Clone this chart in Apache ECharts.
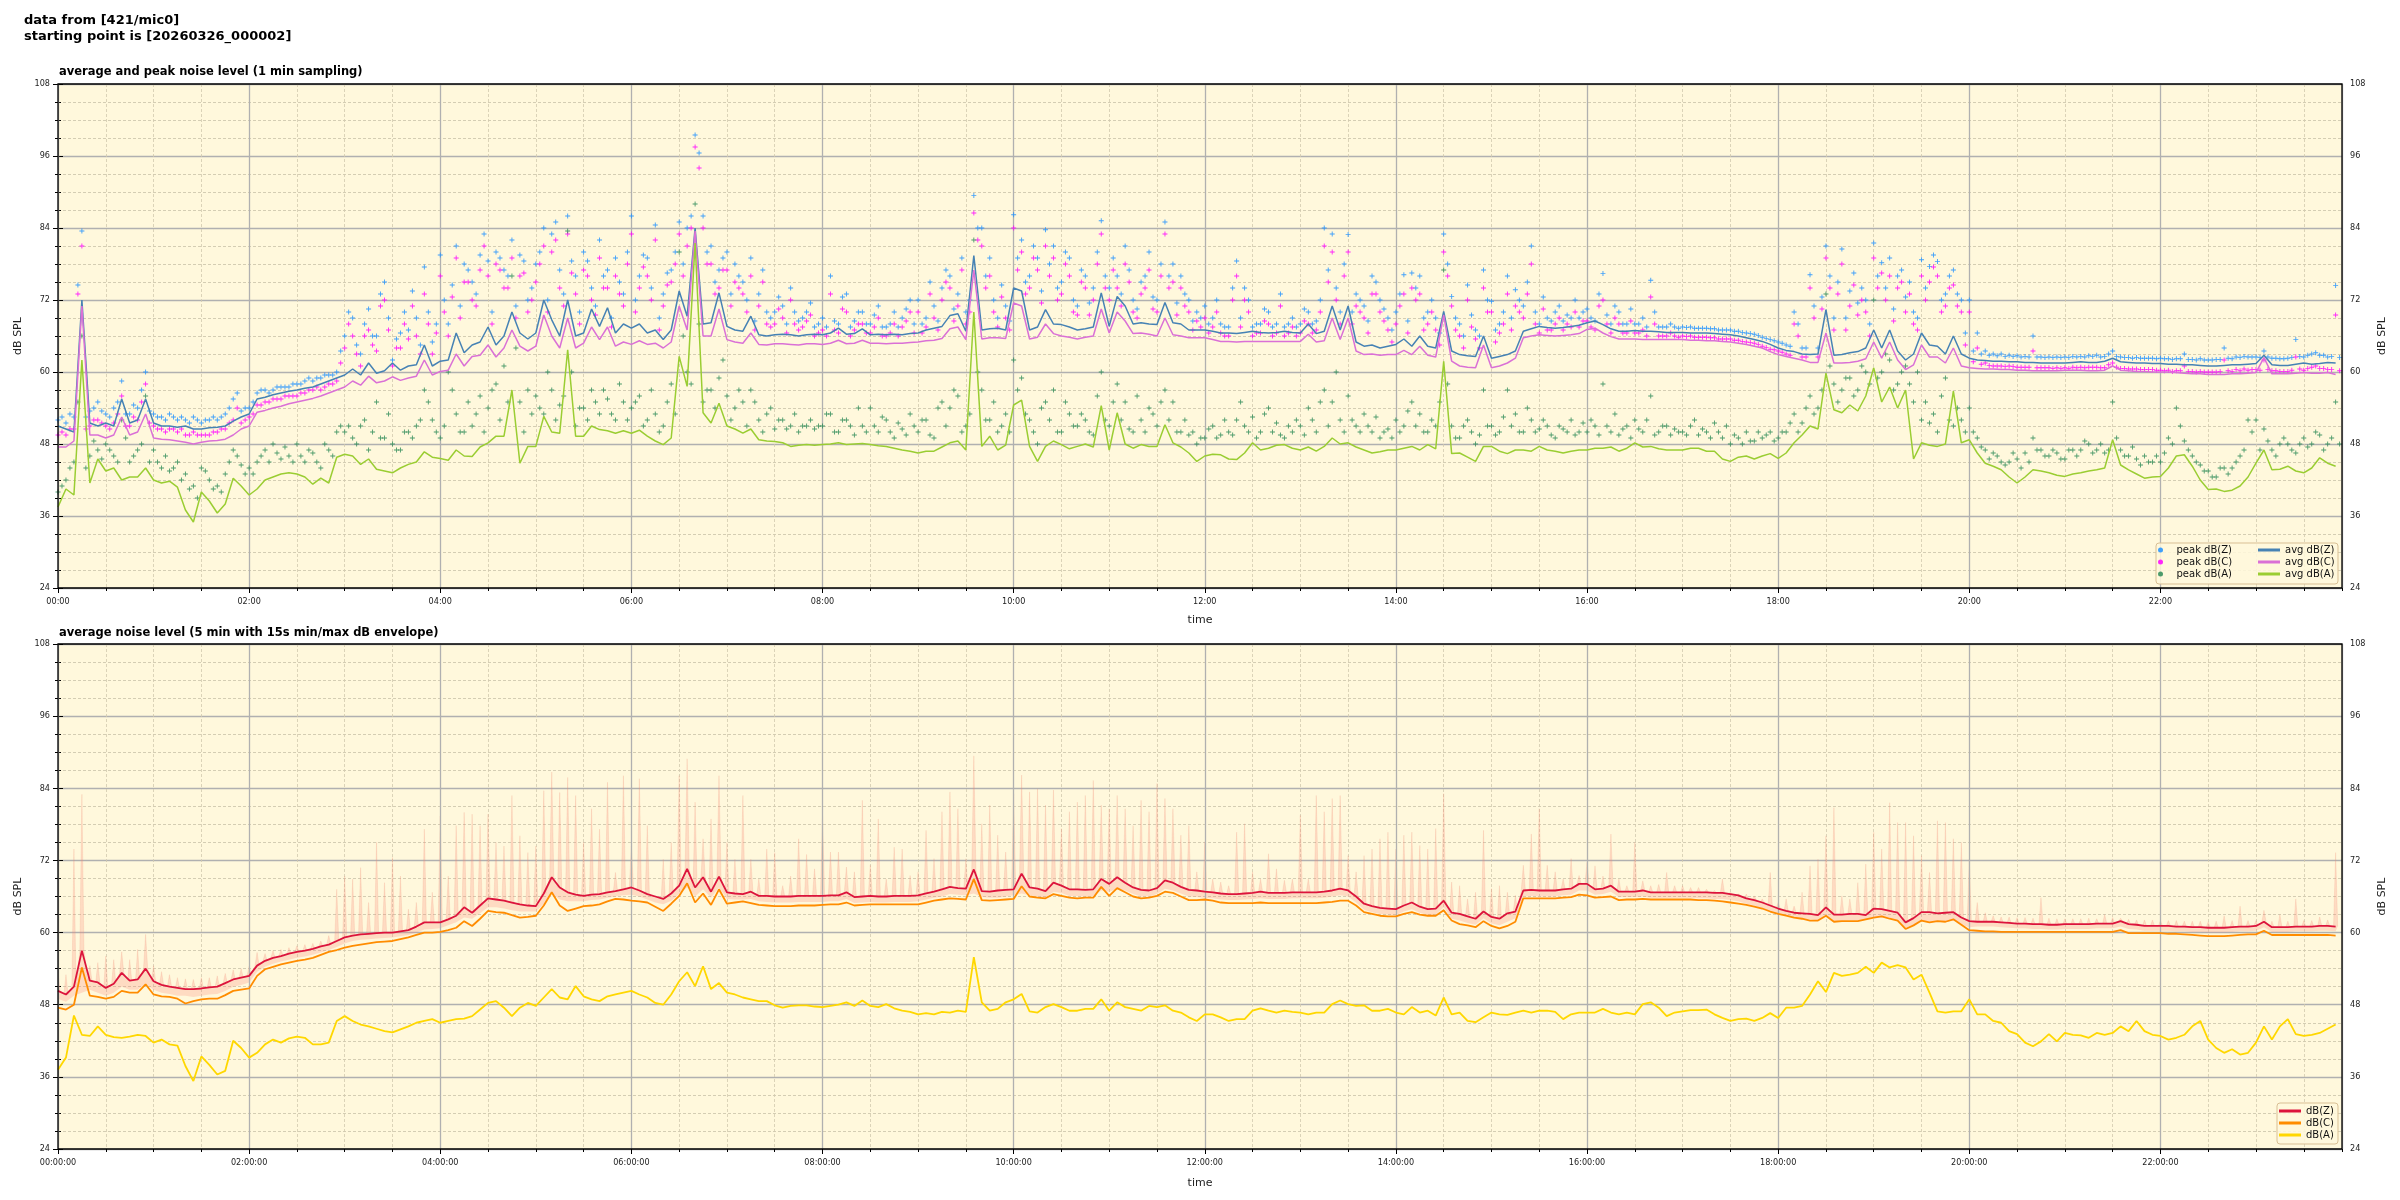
<!DOCTYPE html>
<html><head><meta charset="utf-8">
<script src="https://cdn.jsdelivr.net/npm/echarts@6/dist/echarts.min.js"></script>
<style>html,body{margin:0;padding:0;background:#fff}#c{width:2400px;height:1200px}</style>
</head><body><div id="c"></div><script>
// ---------------- DATA (one value every 5 min, 00:00 .. 23:50) ----------------
const STEP_MIN = 5;
const X_MAX = 1434;            // last sample ~23:54
const yTicks = [24, 36, 48, 60, 72, 84, 96, 108];

// top panel: 1 min averages (sampled every 5 min)
const avgZ = [
51,50.5,50,72,51.5,51,51.5,51,55.5,51.5,52,55.5,
51.5,51,51,50.8,51,50.5,50.5,50.7,50.8,51,51.8,52.5,
53,55.5,55.8,56.2,56.5,56.8,57,57.3,57.5,58,58.5,59,
59.5,60.5,59.5,61.5,59.8,60.2,61.5,60.3,61,61.2,64.5,61,
61.8,62,66.5,63.2,64.5,65,67.5,64.5,66,70,66.5,65.5,
66.5,72,68.7,66,72,66,66.5,70.5,67.6,70.7,66.5,68,
67.3,68,66.5,67,65.4,67,73.5,69.3,84,68,68.2,73.2,
67.6,67,66.8,69.3,66.2,66,66.2,66.3,66.2,66,66.2,66.3,
66.2,66.5,67.3,66.3,66.4,67.2,66.2,66.3,66.2,66.3,66.2,66.4,
66.5,67,67.3,67.6,69.4,69.7,66.8,79.4,67,67.2,67.3,67,
74,73.5,67,67.5,70.4,68,67.9,67.5,67,67.2,67.5,73.2,
67.6,72.6,71,68,68.2,68,67.9,71.6,68.2,68,67,67,
67,66.8,66.5,66.5,66.4,66.6,66.8,66.6,66.5,66.6,66.8,66.6,
66.5,68,66.4,66.8,71,67,71,65,64.3,64.5,64,64.3,
64.6,65.5,64.3,66,64.3,64,70.1,63.5,62.9,62.7,62.6,66,
62.3,62.6,62.9,63.5,66.8,67.2,67.6,67.4,67.3,67.4,67.6,67.8,
68.2,68.5,67.9,67.2,66.8,66.8,66.9,66.8,66.8,66.7,66.6,66.6,
66.6,66.5,66.5,66.5,66.4,66.3,66.2,66,65.7,65.4,65.1,64.6,
64,63.6,63.4,63,62.9,63,70.4,62.8,62.9,63.2,63.4,64,
67,64,67,63.5,62,63,66.5,64.5,64.3,63,66,63,
62.3,62,61.9,61.8,61.8,61.7,61.7,61.6,61.6,61.5,61.5,61.5,
61.5,61.6,61.7,61.6,61.6,61.8,62.3,61.7,61.6,61.5,61.5,61.4,
61.4,61.3,61.3,61.2,61.2,61.1,61,61,61.1,61.2,61.2,61.3,
61.4,62.8,61.2,61.1,61.1,61.3,61.5,61.3,61.4,61.6,61.5];
const avgC = [
47.5,47.5,48.5,71,49.5,49.5,49,49.5,52.5,49.5,50,53,
49,48.8,48.7,48.5,48.3,48,48.3,48.5,48.6,48.8,49.5,50.5,
51,53.3,53.6,54,54.3,54.7,55,55.3,55.6,56,56.5,57,
57.5,58.5,57.8,59.3,58.2,58.5,59.2,58.6,59,59.3,62,59.5,
60.1,60.3,63,61,62.6,62.8,64.5,62.5,64,67,64.3,63.5,
64.3,69.5,66,64,69,64,64.8,67.5,65.4,67.5,64.3,65,
64.6,65.2,64.6,64.8,64,65,71,67,83.5,66,66,70.5,
65.4,65,64.8,66.5,64.6,64.5,64.7,64.7,64.6,64.5,64.7,64.7,
64.6,64.8,65.3,64.7,64.8,65.3,64.8,64.8,64.7,64.8,64.8,64.9,
65,65.2,65.3,65.6,67.2,67.5,65.4,77,65.5,65.7,65.7,65.6,
71.5,71,65.5,65.8,68,66.4,66,65.8,65.5,65.8,66,70.5,
66.5,70,68.5,66.4,66.5,66.3,66,69,66.2,66,65.7,65.7,
65.7,65.4,65.1,65.1,65,65.1,65.1,65.1,65.1,65.1,65.1,65.1,
65.1,66.3,65,65.2,69,65.4,69,63.5,62.9,63,62.8,62.9,
62.9,63.6,62.9,64.3,62.8,62.5,69.5,61.8,61,60.8,60.7,64.5,
60.7,61,61.5,62.3,65.7,66,66.2,66.1,66,66.1,66.2,66.4,
67.1,67.3,66.5,65.9,65.5,65.5,65.5,65.4,65.4,65.4,65.4,65.4,
65.4,65.3,65.3,65.2,65.2,65.1,65,64.8,64.6,64.3,64,63.4,
62.9,62.6,62.3,62,61.6,61.6,66.5,61.5,61.5,61.6,61.8,62.2,
65,62.3,65,62,60.4,61.2,64.5,62.5,62.5,61.5,64,61,
60.7,60.6,60.5,60.5,60.4,60.4,60.3,60.3,60.2,60.2,60.2,60.2,
60.3,60.3,60.3,60.2,60.2,60.3,61,60.3,60.2,60.1,60.1,60,
60,60,59.9,59.8,59.7,59.7,59.6,59.6,59.6,59.7,59.7,59.8,
59.9,62.4,59.7,59.7,59.7,59.8,59.9,59.8,59.8,59.9,59.6];
const avgA = [
37.5,40.5,39.5,62,41.5,45.5,43.5,44,42,42.5,42.5,44,
42,41.5,41.8,40.8,37,35,40,38.5,36.5,38,42.3,41,
39.5,40.5,42,42.5,43,43.2,43,42.5,41.3,42.3,41.5,45.8,
46.3,46,44.6,45.5,43.8,43.5,43.2,44,44.6,45,46.7,45.8,
45.6,45.3,47,46,45.9,47.5,48.2,49.3,49.3,57,44.8,47.6,
47.6,52.6,50,49.8,63.7,49.3,49.3,51,50.4,50.2,49.8,50.2,
49.8,50.3,49.3,48.5,47.9,49,62.6,57.6,81.5,53.2,51.5,54.8,
51,50.5,49.8,50.5,48.7,48.5,48.4,48.2,47.6,47.8,47.9,47.8,
47.9,48,48.2,47.9,48,48.1,47.9,47.7,47.6,47.3,47,46.8,
46.5,46.8,46.8,47.5,48.2,48.5,47,70,47.6,49.3,47,47.8,
54.5,55.3,47.6,45.1,47.6,48.5,47.9,47.2,47.6,48,47.5,54.4,
47,53.2,48,47.3,47.9,47.6,47.6,51.2,48.2,47.5,46.5,45.1,
46,46.3,46.2,45.5,45.4,46.5,48.2,47,47.3,47.8,47.9,47.3,
47,47.5,46.8,47.6,49,48,48.2,47.5,47,46.5,46.7,47,
47,47.3,47.6,47,47.9,47.2,61.8,46.4,46.5,45.8,45.1,47.6,
47.6,46.8,46.4,47,47,46.8,47.6,47,46.8,46.5,46.8,47,
47,47.3,47.3,47.5,46.8,47.3,48.2,47.5,47.6,47.2,47,47,
47,47.3,47.3,46.8,46.8,45.5,45.1,45.8,46,45.5,46,46.4,
45.6,46.5,48.2,49.5,51,50.5,59.8,53.7,53.2,54.5,53.5,56,
60.7,55,57.5,54,57,45.5,48.2,47.8,47.6,48,56.8,48.2,
48.7,46.5,44.8,44.3,43.7,42.5,41.5,42.5,43.7,43.5,43.2,42.8,
42.6,43,43.2,43.5,43.7,44,48.7,44.5,43.7,43,42.3,42.5,
42.6,44,46,46.2,44.3,42,40.4,40.5,40.1,40.3,41,42.5,
44.8,47,43.7,43.8,44.3,43.5,43.2,44,45.7,44.8,44.3];

// top panel: 1 min peaks, read at hh:m0 / hh:m5 ...
const peakZ = [
52,51.5,52.5,83.5,53.5,55,53,54,58.5,53,54,60,
53,52.5,53,52,52,52.5,51.5,52,52,53,55.5,53.5,
54,56.5,57,57,57.5,57.5,58,58.5,58.5,59,59.5,60,
66,69,63,70.5,66,75,62,66.5,67,69,77.5,65,
79.5,68,81,78,75,79.5,78.5,80,77,82,79.5,72,
78,84,83,77,86,76,80,74,82,77,79,73,
86,76,79,84.5,73,77,85,84,99.5,86,81,77,
80,78,75,79,73,70,70,71,74,68.5,70,67.5,
69,76,68,73,68.5,70,68,71,67.5,70,69,72,
72,69,71,74,76,73,70,89.4,84,79,69,71,
86.2,82,76,79,83.7,81,75,79,71,76,74,85.2,
74,76,81,72,75,80,72,85,78,76,72,70,
71,69,68,67.5,78.5,74,67.5,68,70,68,67.5,69,
68,70,68.5,84,83,70,82.9,73,71,76,72,69,
70,76.2,76.5,76,70,69,83,72.6,68,74.5,67,77,
71.8,68,76,73.7,71,81,68,69,70,68.5,69,69,
70.5,68.5,76.4,68,70,68,68,69,75.3,67.5,67.5,67.5,
67.5,67.5,67.3,67.3,67.2,67,67,66.8,66.5,66.3,65.8,65.4,
65,64.5,70,64,76.2,64,81,69,80.5,73.5,71.5,72,
81.5,78.2,79,76,72.5,70,78.7,77.6,78.4,73,77,72,
72,66.5,63.5,63,63,62.8,62.7,62.6,66,62.5,62.5,62.5,
62.5,62.6,62.6,62.7,62.8,62.6,63.5,62.5,62.4,62.4,62.3,62.3,
62.3,62.2,62.2,63,62.1,62.2,62,62.1,64,62.2,62.4,62.5,
62.5,63.5,62.3,62.2,62.3,65.4,62.5,63,62.8,62.5,74.4];
const peakC = [
49.5,49.5,50.5,81,51,52,51,51.5,56,51,52,58,
51,50.5,50.5,50,49.5,50,49.5,49.5,50,50.5,52,51.5,
52.5,54.5,55,55.5,55.5,56,56,56.5,57,57,58,58.5,
64,66,61,67,63.5,72,61,64,65.5,66,73,63,
76,66,79,75,72,77,76,78,74,79,76,70,
75,81,80,74,83,73,77,72,79,74,76,71,
83,74,76,82,71,75,83,81,97.5,84,78,74,
77,75,73,76,71,68,68,69,72,67,68.5,66,
67,73,66.5,70,67,68,66.5,69,66,68,67.5,70,
70,67.5,69,72,74,71,68,86.5,81,76,67.5,69,
84,80,74,77,81,79,73,76,69.5,74,72,83,
72,74,78,70,73,77,70,83,75,74,70,68.5,
69,67.5,66.5,66,76,72,66,66.5,68,66.5,66,67.5,
66.5,68,67,81,80,68,80,71,69,73,70,67,
68,73,74,73,68,67,80,71,66,72,65.5,74,
70,66.5,73,71,69,78,66.5,67,68,67,67.5,67.5,
68.5,67,72,66.5,68,66.5,66.5,67,72.5,66,66,66,
66,66,65.8,65.8,65.7,65.5,65.5,65.3,65,64.8,64.3,63.8,
63.5,63,68,62.5,74,62.5,79,67,78,71,69.5,70,
79,76.5,76,74,70,68,76,75,76,71,74.5,70,
70,64,61.5,61,61,61,60.8,60.8,63.5,60.7,60.7,60.7,
60.7,60.8,60.8,60.8,60.8,60.7,61.5,60.6,60.5,60.5,60.4,60.4,
60.3,60.3,60.2,61,60.1,60.1,60,60,62,60.1,60.2,60.3,
60.4,62,60.2,60.1,60.1,62.5,60.3,60.8,60.6,60.4,69.5];
const peakA = [
40,42,45,66,46,47,48,46,52,45,47,56,
47,44,43.5,45,43,41,44,42,41,43,47,44.5,
44,45,47,48,45.5,46,48,45,46.5,44,47,50,
50,49,51,47,55,49,48,47,50,51,57,52,
49,60,53,50,51,56,54,58,61,76,55,57,
56,53,57,54.5,83.5,51,54,57,53,55.5,52,55,
54,56,52,53,51,58,80,60,88,55,57,59,
56,54,55,57,52,53,50.5,52,51,50,51,50.5,
51,53,50,52,49.5,51,54,50,52,49,50.5,53,
50,52,49,55,54,56,51,82,57,52,50,53,
62,59,52,48,55,57,50,53,51,52,49.5,60,
51,58,55,50,52,54,51,57,55,50,49.5,48,
49,51,49.5,50,52,51,52.5,50,54,51.5,49,50,
51,54,50,57,55,52,56,51,53,50,49,50.5,
52,51,55,53,50,51,77,51,49,52,48,57,
51,50,57,53,50,52,50.5,51,49,50.5,52,50,
50,51,58,50,49.5,51,52,50,56,50,51,50.5,
50,51,49.5,50,51.5,49,48,49,50,48.5,49,50,
49,50,53,51.5,56,54,73,58,57,59,57,60,
72,60,62,58,61,55,52,51.5,50,59,51,52,
54,49,47,46.5,45,45,45.5,46.5,49,47,46,46.5,
45.5,47,47,48,47,46.5,55,47,46,45.5,46,45,
45,49,54,48.5,46,44.5,43.5,42.5,44,44,46,52,
52,50.5,47,48,48,46.5,49,48,49.5,48,55];
// second reading of the peaks, 2.5 min after each of the above
const peakZ2 = [
52.5,53,74.5,52.5,54,53.5,52.5,55,53,54.5,57,53.5,
52.5,52,52.5,52.5,51.5,52,52,52.5,52.5,54,56.5,54,
55,57,56.5,57.5,57.5,58,58,59,59,59.5,59.5,63.5,
70,64.5,68,66,73,69,65.5,70,73.5,64.5,70,68,
72,74.5,71,77,73,83,70,79,76,71,78.5,74,
80,72,85,73,78.5,70,78.5,71,76,69,75,80,
72,79.5,74,69,76.5,80,78,86,96.5,80,75,79,
73,76,72,68.5,77,69,72.5,68,70,69,71.5,68,
67.5,68.5,72.5,67.5,70,68,69.5,67.5,68,67.5,70.5,68,
68,75,68.5,77,70.5,79,72,84,76,72,74.5,68.5,
79,75,81,73.5,78,74,80,72,77,71.5,80,76,
79,73,77,70.5,76,72.5,78,76,71.5,73,68.5,69,
68,72,67.5,74,69,72,68,70.5,67.5,73,68,67.5,
70.5,68,72,77,74,78,70,72,68.5,75,70.5,67,
73,68.5,74,69,72,66.5,78,69,66,69.5,66,72,
67,70,69,72,75,70,72.5,68.5,71,69.5,72,70,
69,73,69.5,71,68,70.5,68,67.5,70,67.5,68,67.3,
67.4,67.3,67.3,67.2,67,67,66.8,66.6,66.4,66.1,65.6,65.2,
64.8,64.3,68,64,71,72.5,76,75,69,76.5,74,68,
76,74,70.5,77,75,69,74,79.5,72,76,73,66.5,
63.5,63,62.8,62.7,62.6,62.6,62.5,62.5,62.5,62.4,62.4,62.4,
62.4,62.5,62.5,62.6,62.5,63,62.6,62.4,62.3,62.3,62.3,62.2,
62.2,62.1,62.2,62.1,62,62,62,62.1,62.3,62.5,62.6,62.5,
62.4,62.5,62.3,62.2,62.4,62.6,62.8,63.2,62.8,62.6,62.4];
const peakC2 = [
50,50.5,73,50.5,52,51.5,50.5,53,51,52.5,55,51.5,
50.5,50,50.5,50.5,49.5,49.5,49.5,50,50.5,51.5,54,52,
53,54.5,55,55.5,56,56,56.5,57,57.5,57.5,58,61.5,
68,63,66,64.5,71,67,64,68,71,63,68,66.5,
70,72.5,69,75,71,81,68,77,74,69,76.5,72,
78,70,82,71,76.5,68,76,69.5,74,67.5,73,78,
70,77.5,72,67,74.5,78,76,84,94,78,73,77,
71,74,70,67,75,67.5,70.5,66.5,68,67.5,69.5,66.5,
66,67,70.5,66,68,66.5,67.5,66,66.5,66,68.5,66.5,
66.5,73,67,75,68.5,77,70,82,74,70,72.5,67,
77,73,79,71.5,76,72,78,70,75,69.5,78,74,
77,71,75,69,74,70.5,76,74,69.5,71,67,67.5,
66.5,70,66,72,67.5,70,66.5,68.5,66,71,66.5,66,
68.5,66.5,70,75,72,76,68,70,66.5,73,68.5,65,
71,66.5,72,67,70,64.5,76,67,64,67.5,64,70,
65,68,67,70,73,68,70.5,67,69,68,70,68.5,
67.5,71,68,69,66.5,68.5,66.5,66,68,66,66.5,65.8,
65.9,65.8,65.8,65.7,65.5,65.5,65.3,65.1,64.9,64.6,64.1,63.7,
63.3,62.8,66,62.5,69,70.5,74,73,67,74.5,72,66,
74,72,68.5,75,73,67,72,77.5,70,74,71,64.5,
61.7,61.3,61.1,61,60.9,60.9,60.8,60.8,60.7,60.7,60.6,60.6,
60.6,60.7,60.7,60.8,60.7,61.2,60.8,60.6,60.5,60.4,60.4,60.3,
60.2,60.1,60.2,60.1,60,60,60,60.1,60.2,60.4,60.5,60.4,
60.3,60.4,60.2,60.1,60.3,60.5,60.6,61,60.6,60.4,60.2];
const peakA2 = [
41,44,55,44,48.5,45.5,47,45,49,46,48,45,
45,46,44,42,40.5,39,43.5,40.5,40,45,46,43,
43,46,45,46.5,47.5,45,46,47,45,48,46,51,
51,48,52,50,49,53,47,50,49,52,55,50,
51,57,50,55,53,50,57,52,55,64,50,53,
54,60,52,56,60,54,52,55,57,53,58,52,
55,51,57,50,55,53,66,58,68,57,54,62,
52,57,51,55,50,54,52,50.5,53,51,52,51,
53,50,52,51,54,50,51,52.5,50,51.5,49.5,51,
52,49.5,54,51,57,50,53,60,52,55,51,50,
57,53,50,54,52,50,55,51,53,50,56,52,
55,52,50.5,56,50,53,55,52,50,52,50,49,
50.5,49,52,49.5,55,50,49,53,50,49.5,51,52,
49.5,52,55,51,60,50,52,50,51,52.5,50,49,
50,53.5,51,50,52,55,58,49,51,50,49.5,51,
49.5,52.5,51,50,54,50,52,49.5,51,50,49.5,51.5,
52,49.5,51,53,50.5,49,50.5,52,49.5,51,49.5,50,
49.5,52,50.5,49,50,51,49.5,48,48.5,50,49.5,48.5,
50,51.5,50,54,53,57,61,55,59,56,61,58,
59,63,57,60,58,60,55,53,56,52,54,50,
50,47.5,45.5,46,44.5,46.5,44,45,47,46,47,45.5,
47,46,48.5,46.5,48,47,49,46,47.5,44.5,45,46,
46.5,48,51,47,45,43.5,42.5,44,43,45,47,50,
47,48.5,46,49,47,48,47.5,50,47,49,48];

// bottom panel: 5 min averages
const botZ = [
50.3,49.7,51,57,52,51.7,50.8,51.5,53.3,52,52.2,54,
51.9,51.3,51,50.8,50.6,50.6,50.7,50.9,51,51.6,52.2,52.5,
52.8,54.5,55.3,55.8,56.1,56.5,56.8,57,57.3,57.7,58,58.6,
59.2,59.5,59.7,59.8,59.9,60,60,60.2,60.4,61,61.7,61.7,
61.7,62.2,62.8,64.2,63.3,64.5,65.7,65.5,65.3,65,64.7,64.5,
64.4,66.5,69.2,67.5,66.7,66.3,66.1,66.3,66.4,66.7,66.9,67.2,
67.5,67,66.4,66,65.6,66.5,67.8,70.6,67.5,69.2,66.8,69.3,
66.7,66.5,66.4,66.8,66.1,66.1,66,66,66,66.1,66.1,66.1,
66.1,66.2,66.2,66.7,65.9,66,66.1,66,66,66.1,66.1,66.1,
66.2,66.5,66.8,67.2,67.6,67.4,67.3,70.5,66.9,66.8,67,67.1,
67.2,69.8,67.5,67.3,66.9,68.3,67.8,67.2,67.2,67.1,67.2,68.9,
68.1,69.2,68.3,67.5,67.1,67,67.4,68.7,68.3,67.6,67.1,67,
66.8,66.7,66.5,66.4,66.4,66.5,66.6,66.8,66.6,66.6,66.6,66.7,
66.7,66.7,66.7,66.8,67,67.3,67,66,64.8,64.4,64.1,64,
63.9,64.5,65,64.3,63.9,64,65.3,63.3,63.1,62.7,62.3,63.5,
62.6,62.3,63.2,63.5,67,67.1,67,67,67,67.2,67.3,68.1,
68.1,67.2,67.3,67.8,66.8,66.8,66.8,67,66.7,66.7,66.7,66.7,
66.7,66.7,66.7,66.7,66.6,66.6,66.4,66.2,65.7,65.4,65,64.5,
64,63.6,63.3,63.2,63.1,62.9,64.2,63,63,63.1,63.1,62.9,
64,63.9,63.6,63.3,61.7,62.4,63.4,63.4,63.2,63.3,63.4,62.5,
61.9,61.8,61.8,61.8,61.7,61.6,61.5,61.5,61.4,61.4,61.3,61.3,
61.4,61.4,61.4,61.4,61.5,61.5,61.5,61.9,61.4,61.3,61.1,61.1,
61.1,61.1,61,61,60.9,60.9,60.8,60.8,60.8,60.9,61,61,
61.1,61.8,60.9,60.9,60.9,61,61,61,61.1,61.1,61];
const botC = [
47.5,47.2,48,54.2,49.5,49.3,49,49.3,50.3,50,50,51.4,
49.7,49.4,49.3,49,48.2,48.6,48.9,49,49,49.6,50.3,50.5,
50.7,52.8,53.9,54.3,54.7,55,55.3,55.5,55.8,56.3,56.8,57.1,
57.5,57.8,58,58.2,58.4,58.5,58.6,58.9,59.2,59.6,60,60,
60.1,60.4,60.8,61.9,61.1,62.3,63.6,63.4,63.3,62.9,62.5,62.6,
62.8,64.5,66.7,64.5,63.6,64,64.4,64.5,64.7,65.2,65.6,65.5,
65.3,65.2,65,64.3,63.6,64.8,66.1,68.2,65,66.5,64.6,67.2,
64.8,65,65.2,64.9,64.6,64.5,64.4,64.4,64.4,64.5,64.5,64.5,
64.6,64.7,64.7,65,64.5,64.6,64.7,64.7,64.7,64.7,64.7,64.7,
64.7,65,65.3,65.5,65.7,65.6,65.5,68.9,65.4,65.3,65.4,65.5,
65.6,67.7,66,65.8,65.7,66.4,66.1,65.8,65.7,65.8,65.8,67.6,
66.1,67.4,66.7,66,65.7,65.8,66.1,66.8,66.6,66,65.4,65.4,
65.5,65.3,65,64.9,64.9,64.9,64.9,65,64.9,64.9,64.9,64.9,
64.9,64.9,64.9,65,65.1,65.3,65.3,64.5,63.4,63.1,62.8,62.7,
62.7,63.1,63.4,63,62.8,62.8,63.7,62,61.4,61.2,60.9,61.9,
61.1,60.7,61.1,61.8,65.7,65.7,65.7,65.7,65.7,65.8,65.9,66.3,
66.2,65.8,65.9,66,65.4,65.5,65.5,65.6,65.5,65.5,65.5,65.5,
65.5,65.5,65.4,65.4,65.3,65.2,65,64.8,64.6,64.3,64,63.5,
63.1,62.8,62.5,62.3,62,62,62.8,61.8,61.9,61.9,61.9,62.2,
62.5,62.7,62.3,62,60.6,61.2,62,61.7,61.9,61.8,62.2,61.3,
60.4,60.3,60.2,60.2,60.1,60.1,60.1,60.1,60.1,60.1,60.1,60.1,
60.1,60.1,60.1,60.1,60.1,60.1,60.1,60.4,59.9,59.9,59.9,59.9,
59.9,59.8,59.8,59.7,59.6,59.5,59.4,59.4,59.4,59.5,59.6,59.7,
59.7,60.3,59.6,59.6,59.6,59.6,59.6,59.6,59.6,59.6,59.5];
const botA = [
37.2,39.2,46.2,43,42.8,44.4,43,42.6,42.5,42.7,43,42.8,
41.7,42.2,41.4,41.2,37.8,35.3,39.4,38,36.4,37,42,40.8,
39.2,40,41.4,42.2,41.7,42.4,42.7,42.5,41.4,41.4,41.7,45.3,
46.1,45.3,44.7,44.4,44,43.6,43.4,43.9,44.4,45,45.3,45.6,
45,45.3,45.6,45.7,46.1,47.2,48.3,48.6,47.5,46.1,47.5,48.3,
47.8,49.2,50.6,49.2,48.9,51.1,49.4,48.9,48.6,49.4,49.7,50,
50.3,49.7,49.2,48.3,48,49.7,51.9,53.4,51.1,54.4,50.6,51.6,
50,49.7,49.2,48.9,48.6,48.6,47.9,47.5,47.8,47.9,47.9,47.7,
47.6,47.8,48,48.4,47.8,48.7,47.8,47.6,48.1,47.4,47,46.8,
46.4,46.6,46.4,46.8,46.7,47,46.8,55.9,48.4,47,47.3,48.4,
48.9,49.8,46.9,46.7,47.6,48.1,47.6,47,47,47.3,47.3,48.9,
47,48.4,47.6,47.3,47,47.8,47.6,47.9,47,46.7,45.9,45.3,
46.4,46.4,45.9,45.3,45.6,45.6,47,47.4,47,46.7,47,46.8,
46.7,46.4,46.7,46.7,48.1,48.7,48.1,47.8,47.9,47,47,47.3,
46.7,46.4,47.6,46.7,47,46.2,49.2,46.4,46.7,45.3,45.1,45.9,
46.7,46.4,46.3,46.7,47,46.7,47,47,46.8,45.6,46.4,46.7,
46.7,46.7,47.3,46.7,46.4,46.7,46.4,48.1,48.4,47.5,46.1,46.7,
46.9,47.1,47.1,47.2,46.4,45.8,45.3,45.6,45.7,45.3,45.8,46.6,
45.8,47.5,47.5,47.8,49.7,51.9,50.1,53.3,52.8,53,53.3,54.3,
53.3,55,54.2,54.6,54.2,52.2,53,50,46.9,46.7,46.9,46.9,
48.9,46.4,46.4,45.3,45,43.6,43.1,41.7,41.1,41.9,43.1,41.9,
43.3,43,42.9,42.5,43.3,43,43.3,44.4,43.6,45.3,43.6,43,
42.8,42.2,42.5,43,44.4,45.3,42.2,40.8,40,40.6,39.7,40,
41.7,44.4,42.2,44.4,45.6,43.1,42.8,43,43.3,44,44.7];
// bottom panel: 15 s min / max envelope (per 5 min)
const envMax = [
53.3,53,73.9,83,54.5,55,56.1,55.5,56.8,55.5,57.2,59.7,
54.5,53.5,53,52.5,52.3,52.2,52.5,52.5,52.8,53.2,53.8,54,
54.4,56.7,56.5,57,57.2,57.5,57.8,58,58.2,58.6,59.5,67.2,
69.4,68.9,70.8,65,75,68.3,72.5,69.4,63.9,65,77.2,66.7,
79.4,69.4,77.8,80,79.7,77.8,79.7,75,74.4,82.8,76.1,73.3,
74.4,83.6,86.7,83.3,85.8,82.8,75,80.6,77.2,85,70,86.1,
74.4,85.6,77.8,66.1,72.2,75,86.1,88.9,81.7,75.6,78.9,86.1,
75,72.2,82.8,72.2,68.9,73.9,73.3,67.8,69.4,75.6,73,70.6,
79.5,73.4,73.4,70.9,70.1,82,71.2,78.9,68.9,74.2,73.9,69.5,
70.1,77,72.3,80.1,83.4,80.6,72.3,89.4,78.1,81.2,76.2,73.4,
83.1,86.2,83.4,83.9,81.2,83.7,77.3,80.1,81.7,82.8,85.3,81.2,
80.6,82.8,80.6,77.8,82,80.1,84.8,82.3,80.6,76.2,77.8,70.1,
75.1,68.9,68.4,67.8,76.7,78.1,70.1,68.9,73.1,70.6,68.7,68.9,
79.5,68.9,82.8,80.1,82.3,82.8,72.8,70.1,72.8,73.9,75.6,76.7,
73.9,76.2,76.7,74.5,73.9,77.3,83.1,68.4,67.8,65.6,66.7,77,
67.3,67.8,66.7,66.2,71.2,76.4,80.6,71.2,70.1,68.9,72.3,69.5,
71.7,71.1,69.4,76.4,68.9,67.8,75,68.6,67.8,68,70,67.8,
67.8,67.5,67.5,67.2,67,68.9,66.7,66.4,66.4,66.1,65.6,70,
65,65.6,64.4,66.7,71.1,72.2,76.1,80.8,66.1,65.6,68.3,71.4,
76.7,73.9,81.6,78.3,78.3,76.1,72.8,70,78.6,78.3,75.6,75,
72.2,65,63.3,62.8,62.6,62.6,62.5,62.5,62.4,65.8,62.4,62.3,
62.3,62.3,62.3,62.4,62.3,63,62.5,62.4,62.2,62.1,62.1,62.1,
62,62,62,61.9,61.9,61.9,61.8,61.9,62.8,62,64.4,62,
62,63.7,61.9,63,61.9,65.6,62,62,62.6,62.1,73.3];
const envMin = [
49,48.5,49.5,50,50.5,50,49.5,50,51,50.5,50.5,51.5,
50.5,50,49.8,49.5,49.5,49.3,49.5,49.7,49.8,50.3,51,51.3,
51.7,53.5,54.3,54.8,55.2,55.5,55.8,56,56.3,56.7,57.1,57.6,
58.2,58.6,58.8,58.9,59,59.1,59.2,59.4,59.6,60,60.5,60.6,
60.7,61.2,61.7,62.5,62.3,63.2,64.2,64.2,64,63.7,63.5,63.5,
63.5,64.8,66.5,65.5,65.2,65.2,65.2,65.4,65.5,65.8,66,66.2,
66.3,66,65.5,65,64.7,65.3,66.4,67.5,66,67.2,65.8,67.5,
65.6,65.5,65.5,65.6,65.2,65.1,65,65,65,65.1,65.1,65.1,
65.1,65.2,65.2,65.6,64.9,65,65.1,65,65,65.1,65.1,65.1,
65.2,65.5,65.8,66,66.4,66.3,66.2,66.5,65.9,65.8,65.8,66,
66.2,66.5,66.2,66,65.8,66.8,66.6,66.1,66.1,66,66.1,67,
66.8,67.3,67,66.4,66,66,66.4,67.3,67,66.5,66,65.9,
65.8,65.7,65.5,65.4,65.4,65.5,65.6,65.7,65.6,65.6,65.6,65.7,
65.7,65.7,65.7,65.8,66,66.2,66,65,63.8,63.4,63.1,63,
62.9,63.5,63.9,63.3,62.9,63,64.2,62.3,62,61.6,61.3,62.4,
61.5,61.2,61.8,62.4,66,66.1,66,66,66,66.2,66.3,67,
67,66.3,66.4,66.8,65.9,65.9,65.9,66,65.8,65.8,65.8,65.8,
65.8,65.8,65.7,65.7,65.6,65.6,65.4,65.2,64.8,64.5,64.1,63.6,
63.2,62.8,62.5,62.4,62.2,62,63,61.8,62,62.1,62.1,62.1,
62.6,62.5,62.3,62,60.8,61.3,62,61.8,61.9,61.8,62,61.3,
60.9,61,61,61,60.9,60.8,60.7,60.7,60.6,60.6,60.5,60.5,
60.6,60.6,60.6,60.6,60.7,60.7,60.7,61,60.6,60.5,60.3,60.3,
60.3,60.3,60.2,60.2,60.1,60.1,60,60,60,60.1,60.2,60.2,
60.3,60.9,60.1,60.1,60.1,60.2,60.2,60.2,60.3,60.3,60.2];

// ---------------- CHART ----------------
const FONT = 'DejaVu Sans';
const COND = '"DejaVu Sans Condensed", "DejaVu Sans"';
const pairs = (arr, off) => arr.map((v, i) => [i * STEP_MIN + (off || 0), v]);
const pad = n => String(n).padStart(2, '0');
const fmtHM = m => pad(Math.floor(m / 60)) + ':' + pad(Math.round(m % 60));
const fmtHMS = m => fmtHM(m) + ':00';
const PLUS = 'path://M-0.18,-1H0.18V-0.18H1V0.18H0.18V1H-0.18V0.18H-1V-0.18H-0.18Z';

const GRIDS = [
  {left: 58, right: 58, top: 84, height: 504},
  {left: 58, right: 58, top: 644, height: 505}
];

function mainX(gi, fmt, gap) {
  return {type: 'value', gridIndex: gi, min: 0, max: X_MAX, interval: 120, position: 'bottom', z: 2,
    axisLine: {show: false},
    axisTick: {show: true, length: 5, lineStyle: {color: '#000', width: 1}},
    axisLabel: {formatter: fmt, fontSize: 9, fontFamily: COND, color: '#222', margin: 9, showMaxLabel: false},
    splitLine: {show: true, lineStyle: {color: '#b0b0b0', width: 1.3}},
    name: 'time', nameLocation: 'middle', nameGap: gap,
    nameTextStyle: {fontSize: 11, fontFamily: FONT, color: '#222'}};
}
function minorX(gi) {
  return {type: 'value', gridIndex: gi, min: 0, max: X_MAX, interval: 30, position: 'bottom', z: 1,
    axisLine: {show: false},
    axisTick: {show: true, length: 3, lineStyle: {color: '#000', width: 1}},
    axisLabel: {show: false},
    splitLine: {show: true, lineStyle: {color: '#d2c9ae', width: 0.8, type: [3, 2]}}};
}
function yAx(gi, pos) {
  const left = pos === 'left';
  return {type: 'value', gridIndex: gi, min: yTicks[0], max: yTicks[yTicks.length - 1], interval: 12, position: pos,
    axisLine: {show: false},
    axisTick: {show: true, length: 5, lineStyle: {color: '#000', width: 1}},
    minorTick: {show: true, splitNumber: 4, length: 3, lineStyle: {color: '#000', width: 1}},
    axisLabel: {fontSize: 9, fontFamily: COND, color: '#222', margin: 8},
    splitLine: {show: left, lineStyle: {color: '#b0b0b0', width: 1.3}},
    minorSplitLine: {show: left, lineStyle: {color: '#c9c1a8', width: 0.8, type: [3, 2]}},
    name: 'dB SPL', nameLocation: 'middle', nameGap: left ? 31 : 33,
    nameTextStyle: {fontSize: 11, fontFamily: FONT, color: '#222'}};
}

function scatter(name, data, data2, color) {
  return {type: 'scatter', name, xAxisIndex: 0, yAxisIndex: 0,
    data: pairs(data).concat(pairs(data2, STEP_MIN / 2)), symbol: PLUS, symbolSize: 5,
    color, itemStyle: {color, opacity: 0.85}, z: 2, silent: true};
}
function line(name, data, color, xi, yi, w) {
  return {type: 'line', name, xAxisIndex: xi, yAxisIndex: yi, data: pairs(data), showSymbol: false, symbol: 'none',
    color, lineStyle: {color, width: w}, z: 3, silent: true};
}

// envelope: spikes up to the 15 s max, down to the 15 s min, drawn as one polygon
const envelopeSeries = {
  type: 'custom', xAxisIndex: 2, yAxisIndex: 2, silent: true, z: 1, clip: true,
  data: envMax.map((v, i) => [i * STEP_MIN, envMin[i], v]),
  encode: {x: 0, y: [1, 2]},
  renderItem: function (params, api) {
    if (params.dataIndex !== 0) return null;
    const upper = [];
    const lower = [];
    const hw = 1.3; // half width of a spike, minutes
    for (let i = 0; i < envMax.length; i++) {
      const t = i * STEP_MIN;
      upper.push(api.coord([Math.max(0, t - hw), botZ[i]]));
      upper.push(api.coord([t, envMax[i]]));
      upper.push(api.coord([t + hw, botZ[i]]));
      lower.push(api.coord([t, envMin[i]]));
    }
    lower.reverse();
    return {type: 'group', children: [
      {type: 'polygon', shape: {points: upper.concat(lower)}, style: {fill: 'rgba(250,128,114,0.24)'}},
      {type: 'polyline', shape: {points: upper}, style: {stroke: 'rgba(240,140,115,0.22)', lineWidth: 0.8, fill: null}}
    ]};
  }
};

const legendBase = {orient: 'vertical', itemGap: 0, padding: 0, selectedMode: false, z: 101,
  textStyle: {fontSize: 10, fontFamily: FONT, color: '#111', lineHeight: 12}};

const option = {
  animation: false,
  backgroundColor: '#ffffff',
  textStyle: {fontFamily: FONT},
  grid: GRIDS.map(g => Object.assign({show: true, backgroundColor: '#fff8dc', borderWidth: 0}, g)),
  xAxis: [mainX(0, fmtHM, 27), minorX(0), mainX(1, fmtHMS, 29), minorX(1)],
  yAxis: [yAx(0, 'left'), yAx(0, 'right'), yAx(1, 'left'), yAx(1, 'right')],
  legend: [
    Object.assign({}, legendBase, {data: ['peak dB(Z)', 'peak dB(C)', 'peak dB(A)'], left: 2158, top: 544,
      icon: 'circle', itemWidth: 22, itemHeight: 5}),
    Object.assign({}, legendBase, {data: ['avg dB(Z)', 'avg dB(C)', 'avg dB(A)'], left: 2258, top: 544,
      icon: 'rect', itemWidth: 22, itemHeight: 3}),
    Object.assign({}, legendBase, {data: ['dB(Z)', 'dB(C)', 'dB(A)'], left: 2279, top: 1105,
      icon: 'rect', itemWidth: 22, itemHeight: 3})
  ],
  graphic: [
    {type: 'text', left: 24, top: 14, z: 50, style: {text: 'data from [421/mic0]', font: 'bold 13px "DejaVu Sans"', fill: '#000'}},
    {type: 'text', left: 24, top: 30, z: 50, style: {text: 'starting point is [20260326_000002]', font: 'bold 13px "DejaVu Sans"', fill: '#000'}},
    {type: 'text', left: 59, top: 66, z: 50, style: {text: 'average and peak noise level (1 min sampling)', font: 'bold 11.5px "DejaVu Sans"', fill: '#000'}},
    {type: 'text', left: 59, top: 627, z: 50, style: {text: 'average noise level (5 min with 15s min/max dB envelope)', font: 'bold 11.5px "DejaVu Sans"', fill: '#000'}},
    {type: 'rect', z: 60, silent: true, shape: {x: 58, y: 84, width: 2284, height: 504}, style: {fill: 'none', stroke: '#000', lineWidth: 1.3}},
    {type: 'rect', z: 60, silent: true, shape: {x: 58, y: 644, width: 2284, height: 505}, style: {fill: 'none', stroke: '#000', lineWidth: 1.3}},
    {type: 'rect', z: 90, silent: true, shape: {x: 2156, y: 543, width: 182, height: 41, r: 3}, style: {fill: 'rgba(255,248,220,0.85)', stroke: '#d9bf94', lineWidth: 1}},
    {type: 'rect', z: 90, silent: true, shape: {x: 2277, y: 1103, width: 61, height: 41, r: 3}, style: {fill: 'rgba(255,248,220,0.85)', stroke: '#d9bf94', lineWidth: 1}}
  ],
  series: [
    scatter('peak dB(Z)', peakZ, peakZ2, '#1e90ff'),
    scatter('peak dB(C)', peakC, peakC2, '#ff00ff'),
    scatter('peak dB(A)', peakA, peakA2, '#2e8b57'),
    line('avg dB(Z)', avgZ, '#4682b4', 0, 0, 1.5),
    line('avg dB(C)', avgC, '#da70d6', 0, 0, 1.5),
    line('avg dB(A)', avgA, '#9acd32', 0, 0, 1.5),
    envelopeSeries,
    line('dB(A)', botA, '#ffd700', 2, 2, 1.8),
    line('dB(C)', botC, '#ff8c00', 2, 2, 1.8),
    line('dB(Z)', botZ, '#dc143c', 2, 2, 1.8)
  ]
};

const chart = echarts.init(document.getElementById('c'), null, {renderer: 'canvas', width: 2400, height: 1200});
chart.setOption(option);
</script></body></html>
